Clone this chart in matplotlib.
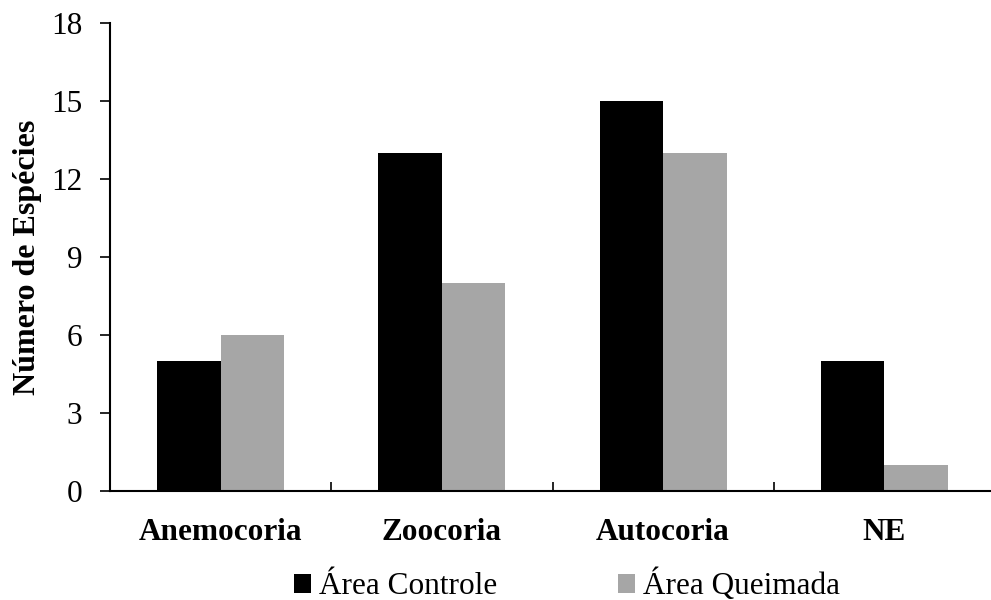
# grouped bars of species counts per dispersal syndrome

import numpy as np
import matplotlib.pyplot as plt
from matplotlib.patches import Patch

categories = ["Anemocoria", "Zoocoria", "Autocoria", "NE"]
controle = [5, 13, 15, 5]
queimada = [6, 8, 13, 1]
series_names = ["Área Controle", "Área Queimada"]
yticks = [0, 3, 6, 9, 12, 15, 18]

plt.rcParams["font.family"] = ["Liberation Serif", "DejaVu Serif"]


def main():
    fig = plt.figure(figsize=(9.91, 6.0), dpi=100)
    ax = fig.add_axes([110 / 991, 1 - 490.7 / 600, 885 / 991, 467.7 / 600])

    colors = ["#000000", "#a6a6a6"]
    x = np.arange(len(categories))
    w = 0.287
    ax.bar(x - w / 2, controle, width=w, color=colors[0])
    ax.bar(x + w / 2, queimada, width=w, color=colors[1])

    ax.set_xlim(-0.5, len(categories) - 0.5)
    ax.set_ylim(0, 18)
    ax.set_yticks(yticks)
    ax.tick_params(axis="y", direction="out", length=7, width=1.2,
                   labelsize=22.5, pad=13)

    # category labels centered, small separator ticks between groups
    ax.set_xticks(x)
    ax.set_xticklabels(categories, fontsize=22.5, fontweight="bold")
    ax.tick_params(axis="x", which="major", length=0, pad=20)
    ax.set_xticks(np.arange(0.5, len(categories) - 0.5, 1), minor=True)
    ax.tick_params(axis="x", which="minor", direction="in", length=6.5, width=1.2)

    for s in ["top", "right"]:
        ax.spines[s].set_visible(False)
    for s in ["left", "bottom"]:
        ax.spines[s].set_linewidth(1.5)

    ax.set_ylabel("Número de Espécies", fontsize=23, fontweight="bold")
    ax.yaxis.set_label_coords(-0.077, 0.5)

    handles = [Patch(facecolor=colors[0], label=series_names[0]),
               Patch(facecolor=colors[1], label=series_names[1])]
    fig.legend(handles=handles, loc="center", ncol=2, frameon=False, fontsize=22.5,
               bbox_to_anchor=(0.572, 0.025), handlelength=0.55, handleheight=0.55,
               handletextpad=0.26, columnspacing=3.85)

    fig.savefig("out.png")
    plt.close(fig)


if __name__ == "__main__":
    main()
